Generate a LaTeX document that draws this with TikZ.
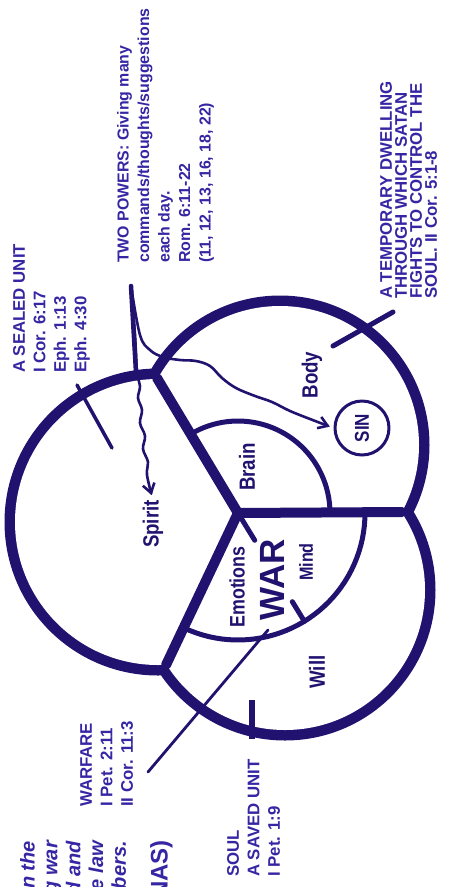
\documentclass[tikz,border=0pt]{standalone}
\usepackage{fontspec}
\setmainfont{Liberation Sans}
\newfontfamily\narrowfont[FakeStretch=0.85]{Liberation Sans}
\usetikzlibrary{arrows.meta}
\definecolor{cink}{HTML}{22126F}
\definecolor{ctext}{HTML}{3626A3}
\tikzset{
  every picture/.style={line cap=round, line join=round},
  ring/.style={draw=cink, line width=21pt},
  spoke/.style={draw=cink, line width=10pt},
  arcline/.style={draw=cink, line width=5pt},
  pointer/.style={draw=cink, line width=#1},
  pointer/.default=3pt,
  wavy/.style={draw=cink, line width=2.6pt, -{Straight Barb[length=9pt, width=12pt]}},
  remark/.style={text=ctext, rotate=90, anchor=north west, inner sep=0pt, align=left, font=\bfseries\fontsize{16.8}{20.5}\selectfont},
  zone/.style={text=cink, rotate=90, inner sep=0pt, font=\narrowfont\bfseries\fontsize{#1}{#1}\selectfont},
  zone/.default=22,
}
\begin{document}
\begin{tikzpicture}[x=1pt, y=-1pt]
  \useasboundingbox (0,0) rectangle (452,887);
  \fill[white] (0,0) rectangle (452,887);
  \clip (0,0) rectangle (452,887);
  % three circles: spirit, body, soul
  \coordinate (cs) at (158,522);
  \coordinate (cb) at (280,445);
  \coordinate (cl) at (285,590);
  \draw[ring] (cs) circle[radius=143] (cb) circle[radius=139] (cl) circle[radius=140];
  \fill[white] (cs) circle[radius=143] (cb) circle[radius=139] (cl) circle[radius=140];
  % hub and the three dividing lines
  \coordinate (hub) at (238,513);
  \coordinate (jtop) at (157,378);
  \coordinate (jright) at (402,512);
  \coordinate (jlow) at (166,665);
  \draw[spoke] (hub) -- (jtop) (hub) -- (jright) (hub) -- (jlow);
  % brain and mind arcs
  \draw[arcline] plot[domain=-121:0, samples=40] ({238+92*cos(\x)}, {513+92*sin(\x)});
  \draw[arcline] plot[domain=0:115, samples=40] ({238+127*cos(\x)}, {513+127*sin(\x)});
  \draw[arcline] (hub) -- ++(58.5:32);
  \draw[arcline] (hub) ++(58.5:104) -- ++(58.5:23);
  % parts
  \node[zone] (spirit) at (153,524) {Spirit};
  \node[zone] (brain) at (247,467) {Brain};
  \node[zone] (body) at (312,375) {Body};
  \node[zone=21] (emotions) at (237,587) {Emotions};
  \node[zone=19] (mind) at (306,562) {Mind};
  \node[zone] (will) at (317,672) {Will};
  \node[text=cink, rotate=90, inner sep=0pt, font=\bfseries\fontsize{35}{35}\selectfont] (war) at (272,580) {WAR};
  \node[zone=20, circle, draw=cink, line width=3pt, minimum size=54pt] (sin) at (362,428) {SIN};
  % the two powers
  \coordinate (fork) at (131,286);
  \draw[pointer=4.5pt] (fork) -- (136,372);
  \draw[wavy, shorten >=5pt] plot[smooth, tension=0.6] coordinates {(fork) (135,335) (137,372) (140,386) (138,398) (142,410) (140,423) (145,436) (143,449) (148,462) (147,475) (spirit.east)};
  \draw[wavy, shorten >=4pt] plot[smooth, tension=0.6] coordinates {(fork) (140,335) (150,350) (163,357) (180,360) (196,361) (210,366) (222,378) (236,388) (255,396) (272,402) (290,411) (310,419) (sin.north)};
  % pointers of the notes
  \draw[pointer=3.5pt] (77,385) -- (112,448);
  \draw[pointer=5pt] (393,312) -- (333,346);
  \draw[pointer=2.8pt] (148,772) -- (268,630);
  \draw[pointer=6pt, line cap=butt] (252,700) -- (252,739);
  % notes
  \node[remark] (sealed) at (13,373) {A SEALED UNIT\\I Cor. 6:17\\Eph. 1:13\\Eph. 4:30};
  \node[remark, font=\bfseries\fontsize{15.9}{20.5}\selectfont] (powers) at (117,263) {TWO POWERS: Giving many\\commands/thoughts/suggestions\\each day.\\Rom. 6:11-22\\(11, 12, 13, 16, 18, 22)};
  \node[remark, font=\bfseries\fontsize{16.8}{15}\selectfont] (dwelling) at (380,299) {A TEMPORARY DWELLING\\THROUGH WHICH SATAN\\FIGHTS TO CONTROL THE\\SOUL. II Cor. 5:1-8};
  \node[remark] (warfare) at (80,807) {WARFARE\\I Pet. 2:11\\II Cor. 11:3};
  \node[remark] (soul) at (227,877) {SOUL\\A SAVED UNIT\\I Pet. 1:9};
  \node[remark, anchor=north east, align=right, font=\bfseries\itshape\fontsize{20}{22.8}\selectfont] (quote) at (20,841) {in the\\waging war\\mind and\\the law\\members.};
  \node[remark, anchor=north east, font=\bfseries\fontsize{24}{24}\selectfont] (nas) at (150,840) {(NAS)};
\end{tikzpicture}
\end{document}
